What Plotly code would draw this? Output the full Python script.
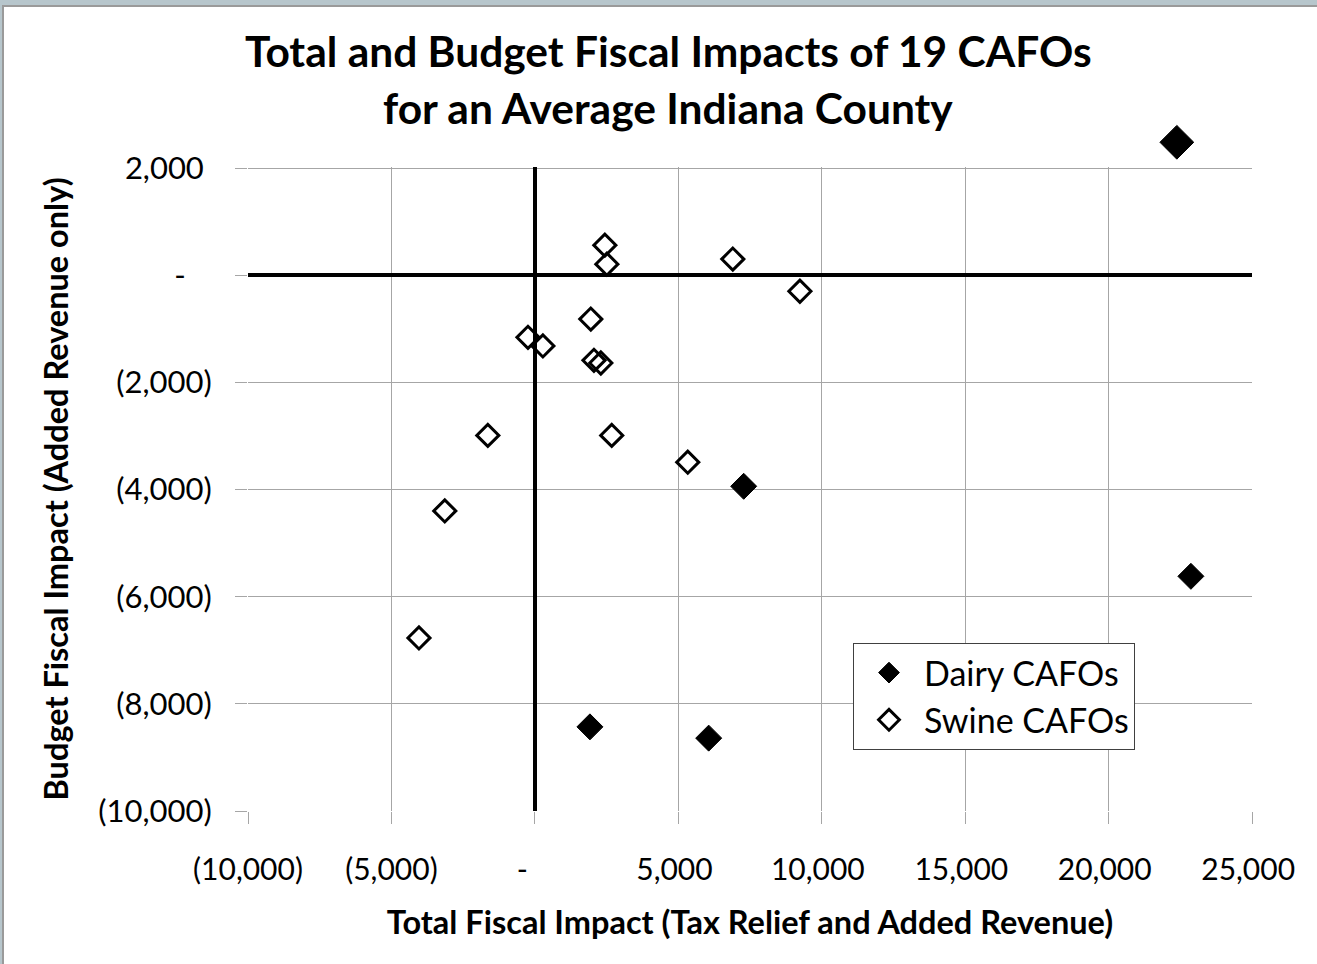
import plotly.graph_objects as go

# ---- data ----
dairy_x = [22380, 7280, 22870, 1920, 6060]
dairy_y = [2480, -3940, -5620, -8430, -8640]

swine_x = [2440, 2510, 6900, 9240, 1950, -240, 280, 2060, 2300, -1640, 2680, 5330, -3140, -4040]
swine_y = [560, 205, 300, -300, -820, -1160, -1320, -1590, -1640, -2990, -2990, -3490, -4400, -6770]

x_tickvals = [-10000, -5000, 0, 5000, 10000, 15000, 20000, 25000]
x_ticktext = ["(10,000)", "(5,000)", "-\u2007\u00a0", "5,000\u00a0", "10,000\u00a0", "15,000\u00a0", "20,000\u00a0", "25,000\u00a0"]
y_tickvals = [-10000, -8000, -6000, -4000, -2000, 0, 2000]
y_ticktext = ["(10,000)", "(8,000)", "(6,000)", "(4,000)", "(2,000)", "-\u2007\u00a0", "2,000\u00a0"]

title_line1 = "Total and Budget Fiscal Impacts of 19 CAFOs"
title_line2 = "for an Average Indiana County"
x_title = "Total Fiscal Impact (Tax Relief and Added Revenue)"
y_title = "Budget Fiscal Impact (Added Revenue only)"

FONT = "Lato, 'Open Sans', sans-serif"
W, H = 1317, 964
# grid box (pixels) of the reference
GX0, GX1, GY0, GY1 = 248, 1252, 168, 811
# plot area extends above the grid box so the out-of-range dairy point shows
L, R, T, B = GX0, W - GX1, 118, H - GY1
PW, PH = W - L - R, H - T - B

x_min, x_max = x_tickvals[0], x_tickvals[-1]
y_min, y_top = y_tickvals[0], y_tickvals[-1]
y_max = y_top + (GY0 - T) * (y_top - y_min) / (GY1 - GY0)
x_pad = (x_max - x_min) * 0.01
y_eps = (y_top - y_min) / (GY1 - GY0) * 1.0  # one pixel in data units


def px_x(px):
    return (px - L) / PW


def px_y(py):
    return (H - B - py) / PH


fig = go.Figure()

fig.add_trace(go.Scatter(
    x=dairy_x, y=dairy_y, mode="markers", name="Dairy CAFOs",
    marker=dict(symbol="diamond", color="black", opacity=1,
                size=[26 if v > y_top else 20 for v in dairy_y],
                line=dict(color="black", width=1)),
    cliponaxis=False,
))
fig.add_trace(go.Scatter(
    x=swine_x, y=swine_y, mode="markers", name="Swine CAFOs",
    marker=dict(symbol="diamond-open", color="black", size=17, opacity=1,
                line=dict(color="black", width=3)),
    cliponaxis=False,
))

grid = "#a6a6a6"
fig.update_xaxes(
    range=[x_min, x_max], tickvals=x_tickvals, ticktext=x_ticktext,
    showgrid=True, gridcolor=grid, gridwidth=1,
    zeroline=True, zerolinecolor="black", zerolinewidth=4,
    ticks="outside", ticklen=12, tickcolor=grid, tickwidth=1,
    showline=False, ticklabelstandoff=20,
    tickfont=dict(family=FONT, size=30, color="black"),
    title=dict(text="<b>" + x_title + "</b>", standoff=26,
               font=dict(family=FONT, size=32.5, color="black")),
)
fig.update_yaxes(
    range=[y_min, y_max], tickvals=y_tickvals, ticktext=y_ticktext,
    showgrid=True, gridcolor=grid, gridwidth=1,
    zeroline=True, zerolinecolor="black", zerolinewidth=4,
    ticks="outside", ticklen=12, tickcolor=grid, tickwidth=1,
    showline=False, ticklabelstandoff=17,
    tickfont=dict(family=FONT, size=31, color="black"),
)

# outer frame: light backdrop strip with white panel and grey border
fig.add_shape(type="rect", xref="paper", yref="paper", layer="below",
              x0=px_x(3), x1=px_x(W + 5), y0=px_y(H + 5), y1=px_y(6),
              fillcolor="white", line=dict(color="#9a9a9a", width=2))
# blank the strip of the plot area above the top gridline (grid box ends at 2,000)
fig.add_shape(type="rect", xref="x", yref="y", layer="between",
              x0=x_min - x_pad, x1=x_max + x_pad, y0=y_top + y_eps, y1=y_max + 10 * y_eps,
              fillcolor="white", line=dict(width=0))

fig.add_annotation(text="<b>" + title_line1 + "</b>", xref="paper", yref="paper",
                   x=px_x(668), y=px_y(50), showarrow=False, yanchor="middle",
                   font=dict(family=FONT, size=42.5, color="black"))
fig.add_annotation(text="<b>" + title_line2 + "</b>", xref="paper", yref="paper",
                   x=px_x(668), y=px_y(107), showarrow=False, yanchor="middle",
                   font=dict(family=FONT, size=42.5, color="black"))
# y-axis title, centred on the grid box
fig.add_annotation(text="<b>" + y_title + "</b>", xref="paper", yref="paper",
                   x=px_x(55), y=px_y((GY0 + GY1) / 2), showarrow=False,
                   textangle=-90, xanchor="center", yanchor="middle",
                   font=dict(family=FONT, size=32.5, color="black"))

fig.update_layout(
    width=W, height=H,
    margin=dict(l=L, r=R, t=T, b=B, autoexpand=False),
    paper_bgcolor="#b7c6cc", plot_bgcolor="rgba(0,0,0,0)",
    font=dict(family=FONT, color="black"),
    legend=dict(x=px_x(853), y=px_y(643), xanchor="left", yanchor="top",
                bgcolor="white", bordercolor="#404040", borderwidth=1,
                font=dict(family=FONT, size=34, color="black"),
                itemsizing="trace", itemwidth=60, tracegroupgap=0),
    showlegend=True,
)

fig.write_html("out.html", config={"displayModeBar": False},
               post_script="document.body.style.margin='0px';")
